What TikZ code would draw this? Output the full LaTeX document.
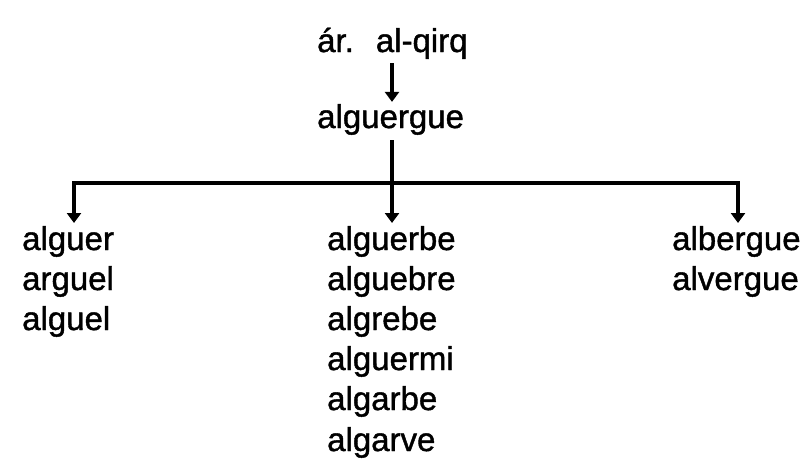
\documentclass[tikz,border=0pt]{standalone}
\usepackage{fontspec}
\setmainfont{Liberation Sans}[FakeBold=1.2]
\usetikzlibrary{arrows.meta}
\begin{document}
\begin{tikzpicture}[x=1pt,y=-1pt,
  word/.style={anchor=base west,inner sep=0pt,font=\fontsize{33}{40}\selectfont},
  link/.style={line width=3.6pt,draw=black},
  arr/.style={link,-{Triangle[length=10pt,width=14pt]}}]
\useasboundingbox (0,0) rectangle (808,464);
\node[word] (top) at (317,52) {ár.\hspace{22pt}al-qirq};
\node[word] (mid) at (317,128) {alguergue};
\node[word] (l1) at (22,250) {alguer};
\node[word] (l2) at (22,290) {arguel};
\node[word] (l3) at (22,330) {alguel};
\node[word] (m1) at (327,250) {alguerbe};
\node[word] (m2) at (327,290) {alguebre};
\node[word] (m3) at (327,330) {algrebe};
\node[word] (m4) at (327,370) {alguermi};
\node[word] (m5) at (327,410) {algarbe};
\node[word] (m6) at (327,451) {algarve};
\node[word] (r1) at (672,250) {albergue};
\node[word] (r2) at (672,290) {alvergue};
\coordinate (j) at (392,183);
\coordinate (cl) at (74,223);
\coordinate (cm) at (392,223);
\coordinate (cr) at (738,223);
\draw[arr] ([yshift=-4pt]top.south -| j) -- ([yshift=2pt]mid.north -| j);
\draw[link] ([yshift=-5pt]mid.south -| j) -- (j);
\draw[arr] (j) -| (cl);
\draw[arr] (j) -| (cr);
\draw[arr] (j) -- (cm);
\end{tikzpicture}
\end{document}
